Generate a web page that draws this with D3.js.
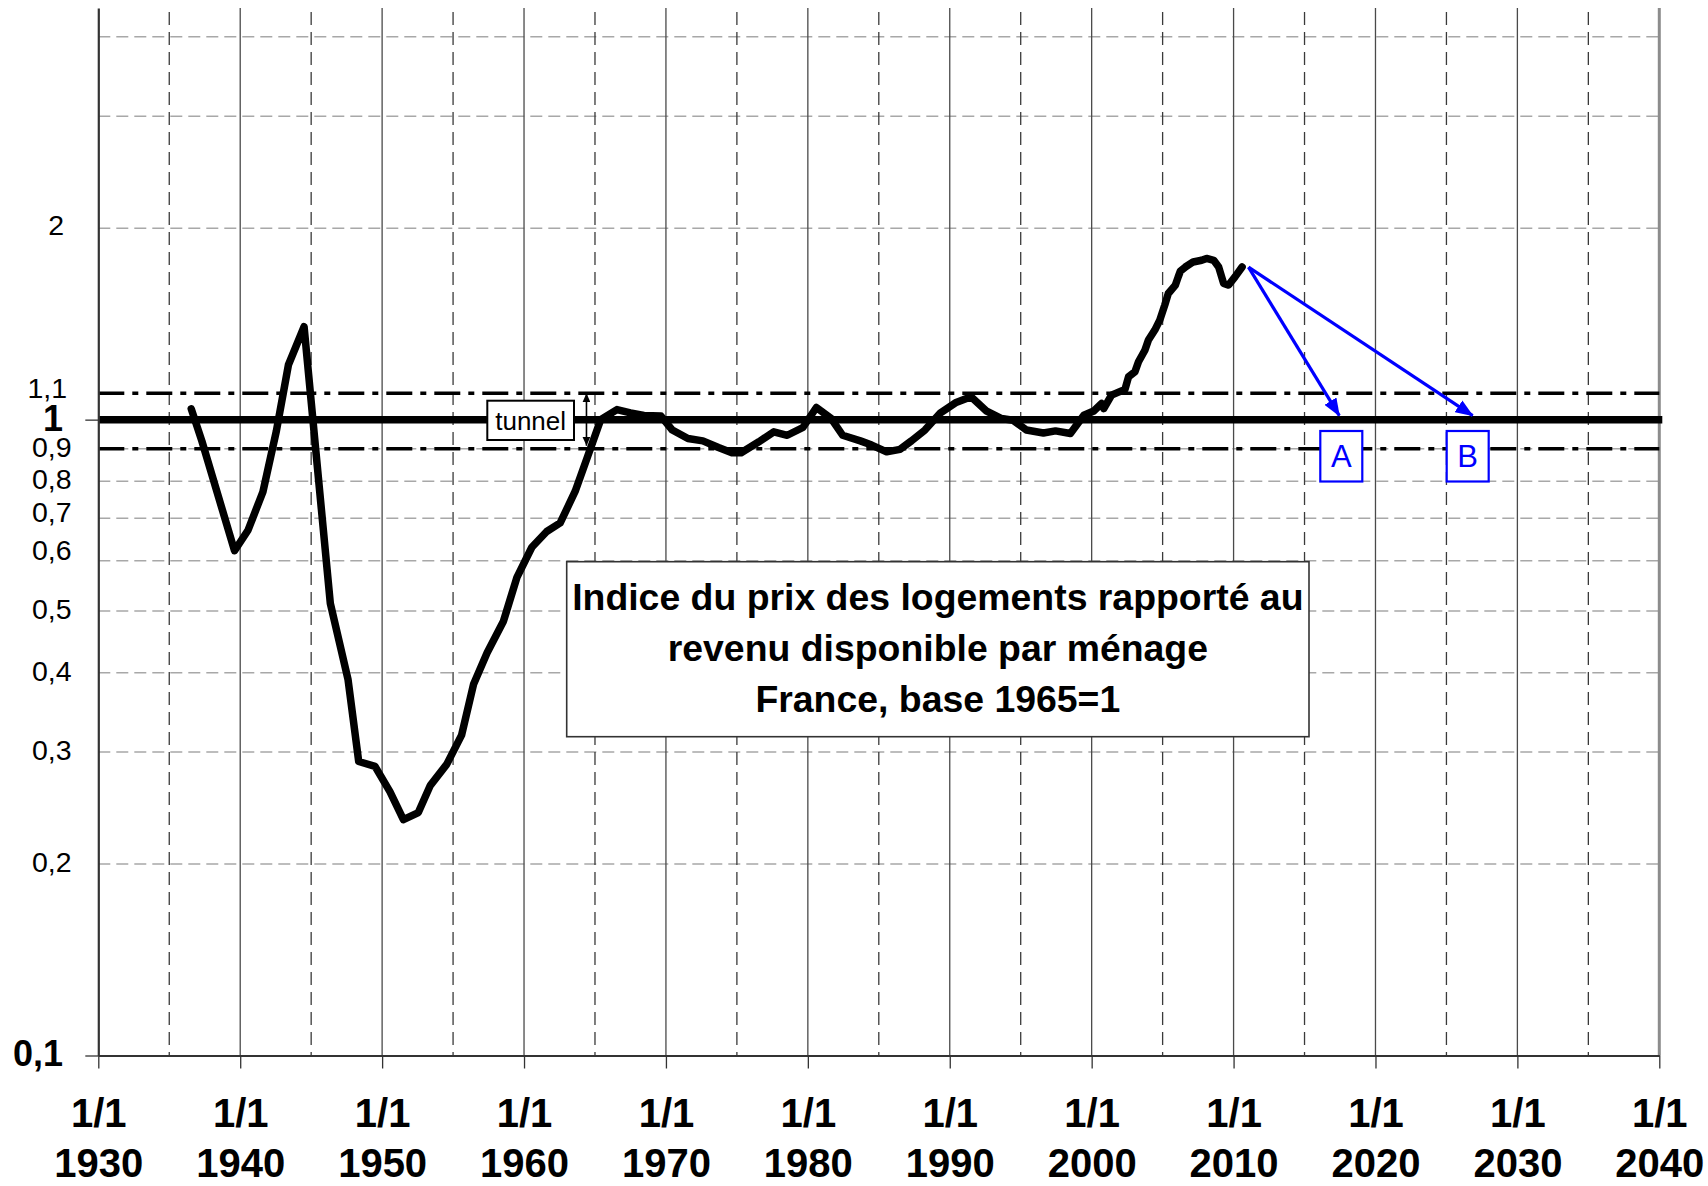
<!DOCTYPE html>
<html>
<head>
<meta charset="utf-8">
<script src="https://cdn.jsdelivr.net/npm/d3@7"></script>
<style>
  html, body { margin: 0; padding: 0; background: #fff; }
  svg { display: block; font-family: "Liberation Sans", Arial, sans-serif; }
</style>
</head>
<body>
<svg id="chart" width="1708" height="1186"></svg>
<script>
// House price index relative to disposable income per household, France (1965 = 1)
const years = [
  1936.55, 1937.3, 1939.6, 1940.55, 1941.6, 1942.55, 1943.4, 1944.5, 1946.35, 1947.6,
  1948.35, 1949.5, 1950.55, 1951.5, 1952.55, 1953.4, 1954.55, 1955.6, 1956.45, 1957.4,
  1958.55, 1959.5, 1960.55, 1961.6, 1962.55, 1963.6, 1964.45, 1965.4, 1966.55, 1967.5,
  1968.45, 1969.65, 1970.45, 1971.55, 1972.6, 1973.7, 1974.65, 1975.3, 1976.55, 1977.6,
  1978.55, 1979.65, 1980.6, 1981.65, 1982.45, 1983.7, 1984.5, 1985.55, 1986.5, 1987.3,
  1988.25, 1989.35, 1990.4, 1991.5, 1992.6, 1993.65, 1994.45, 1995.4, 1996.6, 1997.45,
  1998.5, 1999.45, 2000.15, 2000.7, 2000.85, 2001.4, 2002.35, 2002.6, 2003.05, 2003.3,
  2003.75, 2004.0, 2004.45, 2004.8, 2005.15, 2005.4, 2005.9, 2006.1, 2006.25, 2006.6,
  2007.15, 2007.75, 2008.1, 2008.6, 2008.95, 2009.3, 2009.65, 2010.1, 2010.6
];
const index = [
  1.04, 0.925, 0.622, 0.67, 0.77, 0.96, 1.22, 1.40, 0.514, 0.39,
  0.29, 0.285, 0.26, 0.235, 0.241, 0.266, 0.287, 0.319, 0.384, 0.43,
  0.482, 0.565, 0.63, 0.667, 0.688, 0.771, 0.871, 1.0, 1.037, 1.025,
  1.015, 1.013, 0.963, 0.934, 0.926, 0.904, 0.887, 0.887, 0.923, 0.957,
  0.945, 0.972, 1.045, 1.004, 0.945, 0.926, 0.912, 0.89, 0.898, 0.926,
  0.963, 1.025, 1.063, 1.086, 1.031, 1.004, 0.998, 0.963, 0.953, 0.96,
  0.951, 1.016, 1.032, 1.06, 1.041, 1.093, 1.116, 1.168, 1.189, 1.233,
  1.286, 1.334, 1.383, 1.434, 1.514, 1.579, 1.628, 1.677, 1.712, 1.738,
  1.77, 1.781, 1.793, 1.781, 1.738, 1.637, 1.628, 1.677, 1.738
];

// Axis ticks and gridlines
const decadeTicks = [1930, 1940, 1950, 1960, 1970, 1980, 1990, 2000, 2010, 2020, 2030, 2040];
const halfDecadeLines = [1935, 1945, 1955, 1965, 1975, 1985, 1995, 2005, 2015, 2025, 2035];
const yGridValues = [0.2, 0.3, 0.4, 0.5, 0.6, 0.7, 0.8, 0.9, 2, 3, 4];
const yMajorTicks = [0.1, 1];
const yLabelValues = [2, 1.1, 1, 0.9, 0.8, 0.7, 0.6, 0.5, 0.4, 0.3, 0.2, 0.1];
const yLabelTexts = ["2", "1,1", "1", "0,9", "0,8", "0,7", "0,6", "0,5", "0,4", "0,3", "0,2", "0,1"];

// Reference level and tunnel bounds
const baseLevel = 1;
const tunnelBounds = [0.9, 1.1];
const tunnelArrowYear = 1964.4;

// Two return-to-normal scenarios starting from the last observation
const scenarioStart = [2011.05, 1.737];
const scenarioNames = ["A", "B"];
const scenarioEndYears = [2017.45, 2026.85];

const titleLines = [
  "Indice du prix des logements rapporté au",
  "revenu disponible par ménage",
  "France, base 1965=1"
];

(function draw() {
  const svg = d3.select("#chart");
  const plotLeft = 98.3, plotRight = 1659.3, plotTop = 8, plotBottom = 1055.5;

  const x = d3.scaleLinear().domain([1930, 2040]).range([plotLeft, plotRight]);
  const y = d3.scaleLog().domain([0.1, 4.44]).range([plotBottom, plotTop]);

  // Horizontal gridlines
  svg.append("g").selectAll("line").data(yGridValues).join("line")
    .attr("x1", plotLeft).attr("x2", plotRight)
    .attr("y1", d => y(d)).attr("y2", d => y(d))
    .attr("stroke", "#a8a8a8").attr("stroke-width", 1.5)
    .attr("stroke-dasharray", "12,6");

  // Vertical gridlines: solid at decades, dashed at mid-decades
  svg.append("g").selectAll("line").data(decadeTicks.slice(1, -1)).join("line")
    .attr("x1", d => x(d)).attr("x2", d => x(d))
    .attr("y1", plotTop).attr("y2", plotBottom)
    .attr("stroke", "#4a4a4a").attr("stroke-width", 1.3);

  svg.append("g").selectAll("line").data(halfDecadeLines).join("line")
    .attr("x1", d => x(d)).attr("x2", d => x(d))
    .attr("y1", plotTop + 4).attr("y2", plotBottom)
    .attr("stroke", "#3a3a3a").attr("stroke-width", 1.3)
    .attr("stroke-dasharray", "13,7");

  // Right border of the plot
  svg.append("line")
    .attr("x1", plotRight).attr("x2", plotRight).attr("y1", plotTop).attr("y2", plotBottom)
    .attr("stroke", "#8c8c8c").attr("stroke-width", 3);

  // Tunnel bounds (dash-dot) and base level
  svg.append("g").selectAll("line").data(tunnelBounds).join("line")
    .attr("x1", plotLeft).attr("x2", plotRight)
    .attr("y1", d => y(d)).attr("y2", d => y(d))
    .attr("stroke", "#000").attr("stroke-width", 3.5)
    .attr("stroke-dasharray", "26,8,6,8");

  svg.append("line")
    .attr("x1", plotLeft).attr("x2", plotRight + 3)
    .attr("y1", y(baseLevel)).attr("y2", y(baseLevel))
    .attr("stroke", "#000").attr("stroke-width", 7.5);

  // Axes
  const xAxis = svg.append("g")
    .attr("transform", `translate(0,${plotBottom})`)
    .call(d3.axisBottom(x).tickValues(decadeTicks).tickSize(13).tickSizeOuter(0).tickFormat(() => ""));
  xAxis.select(".domain").attr("stroke", "#333").attr("stroke-width", 2.2);
  xAxis.selectAll(".tick line").attr("stroke", "#333").attr("stroke-width", 1.3);
  xAxis.selectAll(".tick").each(function (d) {
    const g = d3.select(this);
    g.append("text").text("1/1")
      .attr("y", 1127 - plotBottom).attr("text-anchor", "middle")
      .attr("fill", "#000").attr("font-size", 40).attr("font-weight", "bold");
    g.append("text").text(String(d))
      .attr("y", 1177 - plotBottom).attr("text-anchor", "middle")
      .attr("fill", "#000").attr("font-size", 40).attr("font-weight", "bold");
  });

  const yAxis = svg.append("g")
    .attr("transform", `translate(${plotLeft},0)`)
    .call(d3.axisLeft(y).tickValues(yMajorTicks).tickSize(13).tickSizeOuter(0).tickFormat(() => ""));
  yAxis.select(".domain").attr("stroke", "#333").attr("stroke-width", 2.2);
  yAxis.selectAll(".tick line").attr("stroke", "#333").attr("stroke-width", 1.3);

  // Y labels: regular minor labels, bold major ones
  const boldLabels = new Set(["1", "0,1"]);
  const labelNudge = { "2": -3, "1,1": -6, "0,7": -6, "0,6": -11 };
  const labelRight = { "2": 64, "1,1": 67, "1": 63, "0,1": 63 };
  svg.append("g").selectAll("text").data(yLabelValues).join("text")
    .each(function (v, i) {
      const t = yLabelTexts[i];
      const bold = boldLabels.has(t);
      const fs = bold ? 36 : 28.5;
      d3.select(this)
        .text(t)
        .attr("x", labelRight[t] !== undefined ? labelRight[t] : 71.5)
        .attr("y", y(v) + (labelNudge[t] || -2) + fs * 0.358)
        .attr("text-anchor", "end")
        .attr("font-size", fs)
        .attr("font-weight", bold ? "bold" : "normal")
        .attr("fill", "#000");
    });

  // Data series
  const line = d3.line().x(d => x(d[0])).y(d => y(d[1]));
  svg.append("path")
    .datum(years.map((yr, i) => [yr, index[i]]))
    .attr("d", line)
    .attr("fill", "none").attr("stroke", "#000").attr("stroke-width", 7.5)
    .attr("stroke-linejoin", "round").attr("stroke-linecap", "round");

  // Arrowhead markers
  const defs = svg.append("defs");
  defs.append("marker").attr("id", "blueHead")
    .attr("markerUnits", "userSpaceOnUse")
    .attr("markerWidth", 18).attr("markerHeight", 14)
    .attr("refX", 17).attr("refY", 7).attr("orient", "auto")
    .append("path").attr("d", "M0,0 L18,7 L0,14 Z").attr("fill", "#0000ff");
  defs.append("marker").attr("id", "blackHead")
    .attr("markerUnits", "userSpaceOnUse")
    .attr("markerWidth", 9).attr("markerHeight", 8)
    .attr("refX", 9).attr("refY", 4).attr("orient", "auto-start-reverse")
    .append("path").attr("d", "M0,0 L9,4 L0,8 Z").attr("fill", "#000");

  // Tunnel label and double arrow
  const tunnelBox = { x: 487.3, y: 400.7, w: 86.7, h: 39.3 };
  svg.append("rect")
    .attr("x", tunnelBox.x).attr("y", tunnelBox.y)
    .attr("width", tunnelBox.w).attr("height", tunnelBox.h)
    .attr("fill", "#fff").attr("stroke", "#000").attr("stroke-width", 2);
  svg.append("text").text("tunnel")
    .attr("x", tunnelBox.x + tunnelBox.w / 2).attr("y", 430)
    .attr("text-anchor", "middle").attr("font-size", 26).attr("fill", "#000");
  svg.append("line")
    .attr("x1", x(tunnelArrowYear)).attr("x2", x(tunnelArrowYear))
    .attr("y1", y(tunnelBounds[1])).attr("y2", y(tunnelBounds[0]) - 3)
    .attr("stroke", "#000").attr("stroke-width", 1.6)
    .attr("marker-start", "url(#blackHead)").attr("marker-end", "url(#blackHead)");

  // Scenario arrows and their labels
  const sx = x(scenarioStart[0]), sy = y(scenarioStart[1]);
  const labelShift = { A: 2, B: -5 };
  scenarioNames.forEach((name, i) => {
    const ex = x(scenarioEndYears[i]), ey = y(baseLevel) - 4;
    svg.append("line")
      .attr("x1", sx).attr("y1", sy).attr("x2", ex).attr("y2", ey)
      .attr("stroke", "#0000ff").attr("stroke-width", 3.2)
      .attr("marker-end", "url(#blueHead)");
    const cx = ex + labelShift[name];
    svg.append("rect")
      .attr("x", cx - 21).attr("y", 431)
      .attr("width", 42).attr("height", 50.5)
      .attr("fill", "#fff").attr("stroke", "#0000ff").attr("stroke-width", 2.2);
    svg.append("text").text(name)
      .attr("x", cx).attr("y", 466.5)
      .attr("text-anchor", "middle").attr("font-size", 31).attr("fill", "#0000ff");
  });

  // Title box
  const tb = { x: 566.7, y: 561.7, w: 742.3, h: 175 };
  svg.append("rect")
    .attr("x", tb.x).attr("y", tb.y).attr("width", tb.w).attr("height", tb.h)
    .attr("fill", "#fff").attr("stroke", "#333").attr("stroke-width", 1.6);
  svg.append("g").selectAll("text").data(titleLines).join("text")
    .text(d => d)
    .attr("x", tb.x + tb.w / 2)
    .attr("y", (d, i) => 610 + i * 50.8)
    .attr("text-anchor", "middle")
    .attr("font-size", 37.4).attr("font-weight", "bold").attr("fill", "#000");
})();
</script>
</body>
</html>
